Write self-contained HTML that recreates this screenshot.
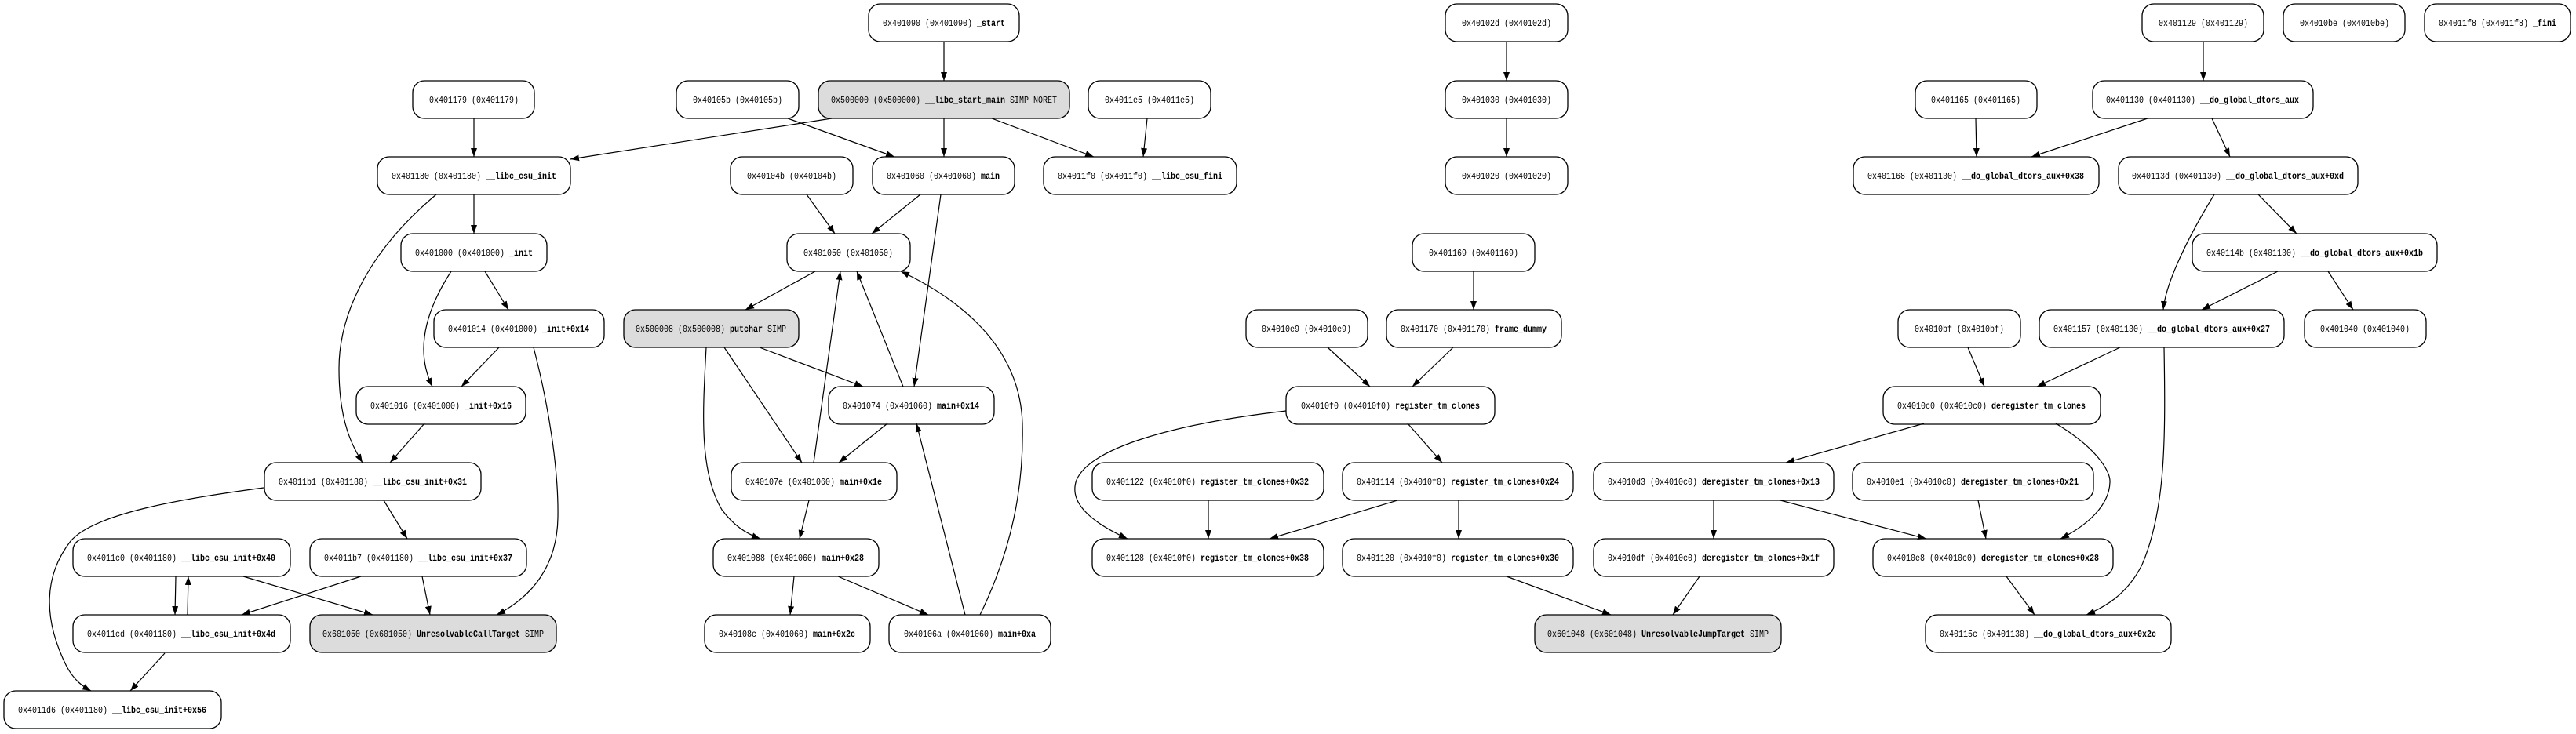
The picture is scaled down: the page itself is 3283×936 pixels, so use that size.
<!DOCTYPE html>
<html><head><meta charset="utf-8"><style>
html,body{margin:0;padding:0;background:#fff;}
svg{display:block;}
text{font-family:"Liberation Mono",monospace;font-size:12px;fill:#000;}
.b{font-weight:bold;}
rect{stroke:#000;stroke-width:1.3;fill:#fff;}
rect.g{fill:#dcdcdc;}
path.e{fill:none;stroke:#000;stroke-width:1.2;marker-end:url(#ah);}
</style></head><body>
<svg width="3283" height="936" viewBox="0 0 3283 936" xmlns="http://www.w3.org/2000/svg">
<defs><marker id="ah" markerUnits="userSpaceOnUse" markerWidth="11" markerHeight="8" refX="11" refY="4" orient="auto"><path d="M0,0 L11,4 L0,8 z" fill="#000"/></marker></defs>

<rect x="1107" y="5" width="192" height="48" rx="15"/><text x="1203" y="33" text-anchor="middle" textLength="156" lengthAdjust="spacingAndGlyphs">0x401090 (0x401090) <tspan class="b">_start</tspan></text>
<rect x="1842" y="5" width="156" height="48" rx="15"/><text x="1920" y="33" text-anchor="middle" textLength="114" lengthAdjust="spacingAndGlyphs">0x40102d (0x40102d)</text>
<rect x="2730" y="5" width="155" height="48" rx="15"/><text x="2808" y="33" text-anchor="middle" textLength="114" lengthAdjust="spacingAndGlyphs">0x401129 (0x401129)</text>
<rect x="2910" y="5" width="155" height="48" rx="15"/><text x="2988" y="33" text-anchor="middle" textLength="114" lengthAdjust="spacingAndGlyphs">0x4010be (0x4010be)</text>
<rect x="3090" y="5" width="186" height="48" rx="15"/><text x="3183" y="33" text-anchor="middle" textLength="150" lengthAdjust="spacingAndGlyphs">0x4011f8 (0x4011f8) <tspan class="b">_fini</tspan></text>

<rect x="526" y="103" width="155" height="48" rx="15"/><text x="604" y="131" text-anchor="middle" textLength="114" lengthAdjust="spacingAndGlyphs">0x401179 (0x401179)</text>
<rect x="862" y="103" width="156" height="48" rx="15"/><text x="940" y="131" text-anchor="middle" textLength="114" lengthAdjust="spacingAndGlyphs">0x40105b (0x40105b)</text>
<rect class="g" x="1043" y="103" width="320" height="48" rx="15"/><text x="1203" y="131" text-anchor="middle" textLength="288" lengthAdjust="spacingAndGlyphs">0x500000 (0x500000) <tspan class="b">__libc_start_main</tspan> SIMP NORET</text>
<rect x="1387" y="103" width="156" height="48" rx="15"/><text x="1465" y="131" text-anchor="middle" textLength="114" lengthAdjust="spacingAndGlyphs">0x4011e5 (0x4011e5)</text>
<rect x="1842" y="103" width="156" height="48" rx="15"/><text x="1920" y="131" text-anchor="middle" textLength="114" lengthAdjust="spacingAndGlyphs">0x401030 (0x401030)</text>
<rect x="2441" y="103" width="155" height="48" rx="15"/><text x="2518" y="131" text-anchor="middle" textLength="114" lengthAdjust="spacingAndGlyphs">0x401165 (0x401165)</text>
<rect x="2667" y="103" width="281" height="48" rx="15"/><text x="2807" y="131" text-anchor="middle" textLength="246" lengthAdjust="spacingAndGlyphs">0x401130 (0x401130) <tspan class="b">__do_global_dtors_aux</tspan></text>

<rect x="481" y="200" width="246" height="48" rx="15"/><text x="604" y="228" text-anchor="middle" textLength="210" lengthAdjust="spacingAndGlyphs">0x401180 (0x401180) <tspan class="b">__libc_csu_init</tspan></text>
<rect x="931" y="200" width="156" height="48" rx="15"/><text x="1009" y="228" text-anchor="middle" textLength="114" lengthAdjust="spacingAndGlyphs">0x40104b (0x40104b)</text>
<rect x="1112" y="200" width="181" height="48" rx="15"/><text x="1202" y="228" text-anchor="middle" textLength="144" lengthAdjust="spacingAndGlyphs">0x401060 (0x401060) <tspan class="b">main</tspan></text>
<rect x="1330" y="200" width="246" height="48" rx="15"/><text x="1453" y="228" text-anchor="middle" textLength="210" lengthAdjust="spacingAndGlyphs">0x4011f0 (0x4011f0) <tspan class="b">__libc_csu_fini</tspan></text>
<rect x="1842" y="200" width="156" height="48" rx="15"/><text x="1920" y="228" text-anchor="middle" textLength="114" lengthAdjust="spacingAndGlyphs">0x401020 (0x401020)</text>
<rect x="2362" y="200" width="313" height="48" rx="15"/><text x="2518" y="228" text-anchor="middle" textLength="276" lengthAdjust="spacingAndGlyphs">0x401168 (0x401130) <tspan class="b">__do_global_dtors_aux+0x38</tspan></text>
<rect x="2700" y="200" width="305" height="48" rx="15"/><text x="2852" y="228" text-anchor="middle" textLength="270" lengthAdjust="spacingAndGlyphs">0x40113d (0x401130) <tspan class="b">__do_global_dtors_aux+0xd</tspan></text>

<rect x="511" y="298" width="186" height="48" rx="15"/><text x="604" y="326" text-anchor="middle" textLength="150" lengthAdjust="spacingAndGlyphs">0x401000 (0x401000) <tspan class="b">_init</tspan></text>
<rect x="1003" y="298" width="157" height="48" rx="15"/><text x="1081" y="326" text-anchor="middle" textLength="114" lengthAdjust="spacingAndGlyphs">0x401050 (0x401050)</text>
<rect x="1800" y="298" width="156" height="48" rx="15"/><text x="1878" y="326" text-anchor="middle" textLength="114" lengthAdjust="spacingAndGlyphs">0x401169 (0x401169)</text>
<rect x="2794" y="298" width="312" height="48" rx="15"/><text x="2950" y="326" text-anchor="middle" textLength="276" lengthAdjust="spacingAndGlyphs">0x40114b (0x401130) <tspan class="b">__do_global_dtors_aux+0x1b</tspan></text>

<rect x="553" y="395" width="217" height="48" rx="15"/><text x="661" y="423" text-anchor="middle" textLength="180" lengthAdjust="spacingAndGlyphs">0x401014 (0x401000) <tspan class="b">_init+0x14</tspan></text>
<rect class="g" x="795" y="395" width="223" height="48" rx="15"/><text x="906" y="423" text-anchor="middle" textLength="192" lengthAdjust="spacingAndGlyphs">0x500008 (0x500008) <tspan class="b">putchar</tspan> SIMP</text>
<rect x="1588" y="395" width="155" height="48" rx="15"/><text x="1665" y="423" text-anchor="middle" textLength="114" lengthAdjust="spacingAndGlyphs">0x4010e9 (0x4010e9)</text>
<rect x="1767" y="395" width="223" height="48" rx="15"/><text x="1878" y="423" text-anchor="middle" textLength="186" lengthAdjust="spacingAndGlyphs">0x401170 (0x401170) <tspan class="b">frame_dummy</tspan></text>
<rect x="2419" y="395" width="156" height="48" rx="15"/><text x="2497" y="423" text-anchor="middle" textLength="114" lengthAdjust="spacingAndGlyphs">0x4010bf (0x4010bf)</text>
<rect x="2599" y="395" width="312" height="48" rx="15"/><text x="2755" y="423" text-anchor="middle" textLength="276" lengthAdjust="spacingAndGlyphs">0x401157 (0x401130) <tspan class="b">__do_global_dtors_aux+0x27</tspan></text>
<rect x="2937" y="395" width="155" height="48" rx="15"/><text x="3014" y="423" text-anchor="middle" textLength="114" lengthAdjust="spacingAndGlyphs">0x401040 (0x401040)</text>

<rect x="454" y="493" width="216" height="48" rx="15"/><text x="562" y="521" text-anchor="middle" textLength="180" lengthAdjust="spacingAndGlyphs">0x401016 (0x401000) <tspan class="b">_init+0x16</tspan></text>
<rect x="1056" y="493" width="211" height="48" rx="15"/><text x="1161" y="521" text-anchor="middle" textLength="174" lengthAdjust="spacingAndGlyphs">0x401074 (0x401060) <tspan class="b">main+0x14</tspan></text>
<rect x="1639" y="493" width="266" height="48" rx="15"/><text x="1772" y="521" text-anchor="middle" textLength="228" lengthAdjust="spacingAndGlyphs">0x4010f0 (0x4010f0) <tspan class="b">register_tm_clones</tspan></text>
<rect x="2400" y="493" width="277" height="48" rx="15"/><text x="2538" y="521" text-anchor="middle" textLength="240" lengthAdjust="spacingAndGlyphs">0x4010c0 (0x4010c0) <tspan class="b">deregister_tm_clones</tspan></text>

<rect x="337" y="590" width="276" height="48" rx="15"/><text x="475" y="618" text-anchor="middle" textLength="240" lengthAdjust="spacingAndGlyphs">0x4011b1 (0x401180) <tspan class="b">__libc_csu_init+0x31</tspan></text>
<rect x="932" y="590" width="211" height="48" rx="15"/><text x="1037" y="618" text-anchor="middle" textLength="174" lengthAdjust="spacingAndGlyphs">0x40107e (0x401060) <tspan class="b">main+0x1e</tspan></text>
<rect x="1392" y="590" width="295" height="48" rx="15"/><text x="1539" y="618" text-anchor="middle" textLength="258" lengthAdjust="spacingAndGlyphs">0x401122 (0x4010f0) <tspan class="b">register_tm_clones+0x32</tspan></text>
<rect x="1711" y="590" width="294" height="48" rx="15"/><text x="1858" y="618" text-anchor="middle" textLength="258" lengthAdjust="spacingAndGlyphs">0x401114 (0x4010f0) <tspan class="b">register_tm_clones+0x24</tspan></text>
<rect x="2031" y="590" width="306" height="48" rx="15"/><text x="2184" y="618" text-anchor="middle" textLength="270" lengthAdjust="spacingAndGlyphs">0x4010d3 (0x4010c0) <tspan class="b">deregister_tm_clones+0x13</tspan></text>
<rect x="2361" y="590" width="307" height="48" rx="15"/><text x="2514" y="618" text-anchor="middle" textLength="270" lengthAdjust="spacingAndGlyphs">0x4010e1 (0x4010c0) <tspan class="b">deregister_tm_clones+0x21</tspan></text>

<rect x="93" y="687" width="277" height="48" rx="15"/><text x="231" y="715" text-anchor="middle" textLength="240" lengthAdjust="spacingAndGlyphs">0x4011c0 (0x401180) <tspan class="b">__libc_csu_init+0x40</tspan></text>
<rect x="395" y="687" width="276" height="48" rx="15"/><text x="533" y="715" text-anchor="middle" textLength="240" lengthAdjust="spacingAndGlyphs">0x4011b7 (0x401180) <tspan class="b">__libc_csu_init+0x37</tspan></text>
<rect x="909" y="687" width="211" height="48" rx="15"/><text x="1014" y="715" text-anchor="middle" textLength="174" lengthAdjust="spacingAndGlyphs">0x401088 (0x401060) <tspan class="b">main+0x28</tspan></text>
<rect x="1392" y="687" width="295" height="48" rx="15"/><text x="1539" y="715" text-anchor="middle" textLength="258" lengthAdjust="spacingAndGlyphs">0x401128 (0x4010f0) <tspan class="b">register_tm_clones+0x38</tspan></text>
<rect x="1711" y="687" width="294" height="48" rx="15"/><text x="1858" y="715" text-anchor="middle" textLength="258" lengthAdjust="spacingAndGlyphs">0x401120 (0x4010f0) <tspan class="b">register_tm_clones+0x30</tspan></text>
<rect x="2031" y="687" width="306" height="48" rx="15"/><text x="2184" y="715" text-anchor="middle" textLength="270" lengthAdjust="spacingAndGlyphs">0x4010df (0x4010c0) <tspan class="b">deregister_tm_clones+0x1f</tspan></text>
<rect x="2387" y="687" width="306" height="48" rx="15"/><text x="2540" y="715" text-anchor="middle" textLength="270" lengthAdjust="spacingAndGlyphs">0x4010e8 (0x4010c0) <tspan class="b">deregister_tm_clones+0x28</tspan></text>

<rect x="93" y="784" width="277" height="48" rx="15"/><text x="231" y="812" text-anchor="middle" textLength="240" lengthAdjust="spacingAndGlyphs">0x4011cd (0x401180) <tspan class="b">__libc_csu_init+0x4d</tspan></text>
<rect class="g" x="395" y="784" width="314" height="48" rx="15"/><text x="552" y="812" text-anchor="middle" textLength="282" lengthAdjust="spacingAndGlyphs">0x601050 (0x601050) <tspan class="b">UnresolvableCallTarget</tspan> SIMP</text>
<rect x="898" y="784" width="211" height="48" rx="15"/><text x="1003" y="812" text-anchor="middle" textLength="174" lengthAdjust="spacingAndGlyphs">0x40108c (0x401060) <tspan class="b">main+0x2c</tspan></text>
<rect x="1133" y="784" width="206" height="48" rx="15"/><text x="1236" y="812" text-anchor="middle" textLength="168" lengthAdjust="spacingAndGlyphs">0x40106a (0x401060) <tspan class="b">main+0xa</tspan></text>
<rect class="g" x="1956" y="784" width="314" height="48" rx="15"/><text x="2113" y="812" text-anchor="middle" textLength="282" lengthAdjust="spacingAndGlyphs">0x601048 (0x601048) <tspan class="b">UnresolvableJumpTarget</tspan> SIMP</text>
<rect x="2454" y="784" width="313" height="48" rx="15"/><text x="2610" y="812" text-anchor="middle" textLength="276" lengthAdjust="spacingAndGlyphs">0x40115c (0x401130) <tspan class="b">__do_global_dtors_aux+0x2c</tspan></text>

<rect x="5" y="881" width="277" height="48" rx="15"/><text x="143" y="909" text-anchor="middle" textLength="240" lengthAdjust="spacingAndGlyphs">0x4011d6 (0x401180) <tspan class="b">__libc_csu_init+0x56</tspan></text>

<path class="e" d="M1203,54 L1203,103"/>
<path class="e" d="M1060,151 L727,203"/>
<path class="e" d="M1203,151 L1203,200"/>
<path class="e" d="M1004,151 L1140,200"/>
<path class="e" d="M1264,151 L1394,200"/>
<path class="e" d="M1462,151 L1457,200"/>
<path class="e" d="M604,151 L604,200"/>
<path class="e" d="M604,248 L604,298"/>
<path class="e" d="M556,248 C470,320 432,400 432,470 C432,540 450,570 462,590"/>
<path class="e" d="M618,346 L648,395"/>
<path class="e" d="M575,346 C540,400 530,450 551,493"/>
<path class="e" d="M636,443 L588,493"/>
<path class="e" d="M680,443 C700,520 712,600 711,660 C710,720 680,760 633,784"/>
<path class="e" d="M541,540 L497,590"/>
<path class="e" d="M336,622 C230,636 120,655 90,690 C55,735 55,790 85,850 C95,868 105,875 116,881"/>
<path class="e" d="M489,638 L519,687"/>
<path class="e" d="M224,735 L223,784"/>
<path class="e" d="M239,784 L240,735"/>
<path class="e" d="M310,735 L475,784"/>
<path class="e" d="M460,735 L308,784"/>
<path class="e" d="M538,735 L548,784"/>
<path class="e" d="M210,833 L166,881"/>

<path class="e" d="M1028,248 L1064,298"/>
<path class="e" d="M1173,248 L1111,298"/>
<path class="e" d="M1199,248 L1165,493"/>
<path class="e" d="M1039,346 L950,395"/>
<path class="e" d="M968,443 L1100,493"/>
<path class="e" d="M923,443 L1022,590"/>
<path class="e" d="M900,443 C896,520 890,600 920,650 C935,670 950,680 969,687"/>
<path class="e" d="M1151,493 L1092,346"/>
<path class="e" d="M1037,590 L1071,346"/>
<path class="e" d="M1131,540 L1069,590"/>
<path class="e" d="M1031,638 L1019,687"/>
<path class="e" d="M1012,735 L1007,784"/>
<path class="e" d="M1068,735 L1183,784"/>
<path class="e" d="M1230,784 L1168,540"/>
<path class="e" d="M1249,784 C1290,700 1305,620 1303,540 C1300,440 1220,380 1148,346"/>

<path class="e" d="M1920,54 L1920,103"/>
<path class="e" d="M1920,151 L1920,200"/>
<path class="e" d="M1878,346 L1878,395"/>
<path class="e" d="M1692,443 L1746,493"/>
<path class="e" d="M1852,443 L1800,493"/>
<path class="e" d="M1639,524 C1500,540 1390,570 1372,612 C1360,645 1400,670 1437,687"/>
<path class="e" d="M1794,540 L1838,590"/>
<path class="e" d="M1540,638 L1540,687"/>
<path class="e" d="M1781,638 L1618,687"/>
<path class="e" d="M1859,638 L1859,687"/>
<path class="e" d="M1920,735 L2053,784"/>
<path class="e" d="M2166,735 L2132,784"/>
<path class="e" d="M2184,638 L2184,687"/>
<path class="e" d="M2269,638 L2455,687"/>
<path class="e" d="M2452,540 L2276,590"/>
<path class="e" d="M2620,540 C2670,570 2690,600 2689,615 C2688,645 2660,670 2626,687"/>
<path class="e" d="M2521,638 L2531,687"/>
<path class="e" d="M2557,735 L2593,784"/>
<path class="e" d="M2758,443 C2760,560 2760,650 2730,720 C2710,760 2680,775 2659,784"/>
<path class="e" d="M2702,443 L2596,493"/>
<path class="e" d="M2508,443 L2529,493"/>
<path class="e" d="M2808,54 L2808,103"/>
<path class="e" d="M2518,151 L2519,200"/>
<path class="e" d="M2737,151 L2589,200"/>
<path class="e" d="M2819,151 L2842,200"/>
<path class="e" d="M2878,248 L2927,298"/>
<path class="e" d="M2822,248 C2790,300 2760,360 2757,395"/>
<path class="e" d="M2903,346 L2806,395"/>
<path class="e" d="M2967,346 L2999,395"/>
</svg>
</body></html>
